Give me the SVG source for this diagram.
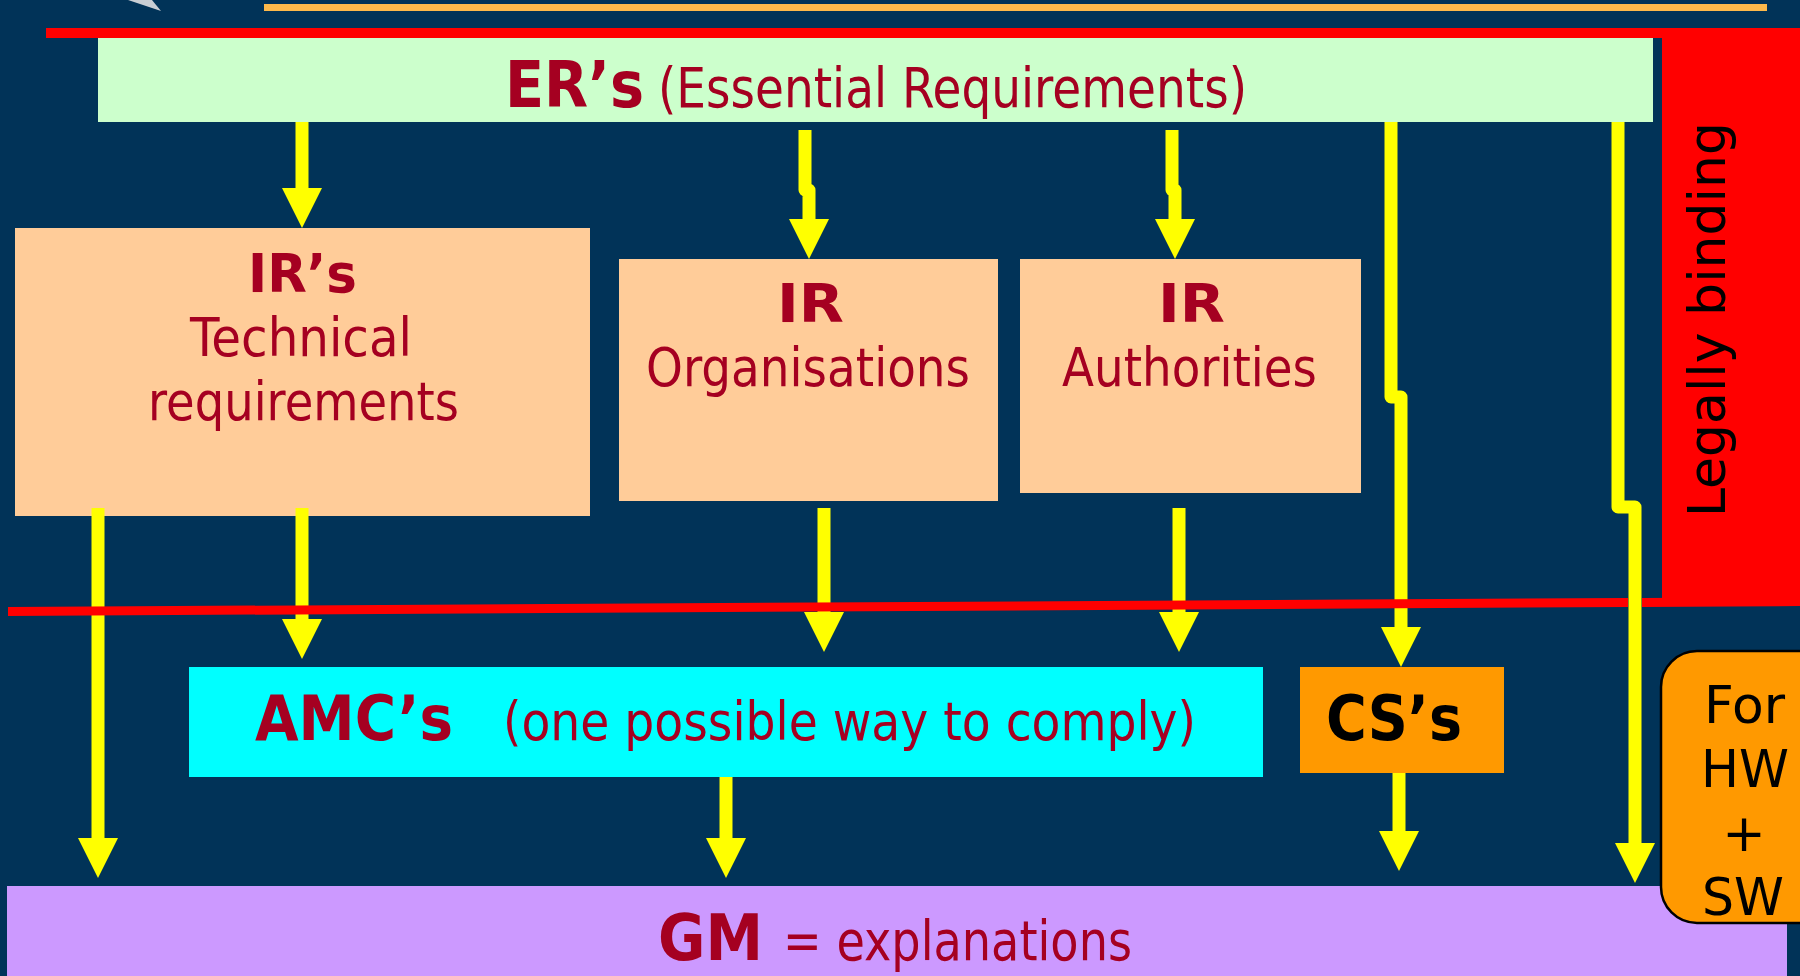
<svg xmlns="http://www.w3.org/2000/svg" width="1800" height="976" viewBox="0 0 1800 976">
  <style>
    .reg { font-family: "DejaVu Sans", "Liberation Sans", sans-serif; font-weight: normal; }
    .bold { font-family: "DejaVu Sans", "Liberation Sans", sans-serif; font-weight: bold; }
    .red { fill: #A50021; }
    .blk { fill: #000000; }
    .conn { fill: none; stroke: #FFFF00; stroke-width: 13; stroke-linejoin: round; marker-end: url(#arrow); }
  </style>
  <defs>
    <marker id="arrow" markerUnits="userSpaceOnUse" markerWidth="40" markerHeight="40" viewBox="0 0 40 40" refX="0" refY="20" orient="auto">
      <path d="M0,0 L40,20 L0,40 Z" fill="#FFFF00"/>
    </marker>
  </defs>

  <!-- background -->
  <rect x="0" y="0" width="1800" height="976" fill="#013358"/>

  <!-- header decorations -->
  <polygon points="128,0 152,0 161,11" fill="#C9CED4"/>
  <rect x="264" y="4" width="1503" height="7" fill="#FDB94B"/>
  <rect x="46" y="28" width="1754" height="10" fill="#FF0000"/>

  <!-- legally binding band -->
  <g id="legally-binding">
    <rect x="1662" y="28" width="138" height="575" fill="#FF0000"/>
    <text class="reg blk" font-size="52" transform="translate(1725,517) rotate(-90)">Legally binding</text>
  </g>

  <g id="er">
    <rect x="98" y="38" width="1555" height="84" fill="#CCFFCC"/>
    <text class="bold red" x="505" y="107" font-size="64" textLength="139" lengthAdjust="spacingAndGlyphs">ER’s</text>
    <text class="reg red" x="658" y="107" font-size="55" textLength="589" lengthAdjust="spacingAndGlyphs">(Essential Requirements)</text>
  </g>

  <g id="ir-technical">
    <rect x="15" y="228" width="575" height="288" fill="#FFCC99"/>
    <text class="bold red" x="248" y="292" font-size="54" textLength="109" lengthAdjust="spacingAndGlyphs">IR’s</text>
    <text class="reg red" x="190" y="356" font-size="54" textLength="222" lengthAdjust="spacingAndGlyphs">Technical</text>
    <text class="reg red" x="148" y="420" font-size="54" textLength="311" lengthAdjust="spacingAndGlyphs">requirements</text>
  </g>

  <g id="ir-organisations">
    <rect x="619" y="259" width="379" height="242" fill="#FFCC99"/>
    <text class="bold red" x="777" y="322" font-size="54" textLength="67" lengthAdjust="spacingAndGlyphs">IR</text>
    <text class="reg red" x="646" y="386" font-size="54" textLength="324" lengthAdjust="spacingAndGlyphs">Organisations</text>
  </g>

  <g id="ir-authorities">
    <rect x="1020" y="259" width="341" height="234" fill="#FFCC99"/>
    <text class="bold red" x="1158" y="322" font-size="54" textLength="67" lengthAdjust="spacingAndGlyphs">IR</text>
    <text class="reg red" x="1062" y="386" font-size="54" textLength="255" lengthAdjust="spacingAndGlyphs">Authorities</text>
  </g>

  <g id="amc">
    <rect x="189" y="667" width="1074" height="110" fill="#00FFFF"/>
    <text class="bold red" x="255" y="740" font-size="63" textLength="198" lengthAdjust="spacingAndGlyphs">AMC’s</text>
    <text class="reg red" x="503" y="740" font-size="54" textLength="693" lengthAdjust="spacingAndGlyphs">(one possible way to comply)</text>
  </g>

  <g id="cs">
    <rect x="1300" y="667" width="204" height="106" fill="#FF9900"/>
    <text class="bold blk" x="1326" y="740" font-size="62" textLength="136" lengthAdjust="spacingAndGlyphs">CS’s</text>
  </g>

  <g id="gm">
    <rect x="7" y="886" width="1780" height="100" fill="#CC99FF"/>
    <text class="bold red" x="658" y="960" font-size="64" textLength="105" lengthAdjust="spacingAndGlyphs">GM</text>
    <text class="reg red" x="783" y="960" font-size="55" textLength="349" lengthAdjust="spacingAndGlyphs">= explanations</text>
  </g>

  <g id="hw-sw">
    <rect x="1661" y="651" width="180" height="272" rx="36" ry="36" fill="#FF9900" stroke="#000000" stroke-width="2.5"/>
    <text class="reg blk" x="1704" y="723" font-size="52" textLength="81" lengthAdjust="spacingAndGlyphs">For</text>
    <text class="reg blk" x="1701" y="787" font-size="52" textLength="88" lengthAdjust="spacingAndGlyphs">HW</text>
    <text class="reg blk" x="1744" y="851" font-size="52" text-anchor="middle">+</text>
    <text class="reg blk" x="1702" y="915" font-size="52" textLength="82" lengthAdjust="spacingAndGlyphs">SW</text>
  </g>

  <g id="connectors">
    <path class="conn" d="M302,122 V188"/>
    <path class="conn" d="M805,130 V190 H809 V219"/>
    <path class="conn" d="M1172,130 V190 H1175 V219"/>
    <path class="conn" d="M1391,122 V397 H1401 V627"/>
    <path class="conn" d="M98,508 V838"/>
    <path class="conn" d="M302,508 V619"/>
    <path class="conn" d="M824,508 V612"/>
    <path class="conn" d="M1179,508 V612"/>
    <path class="conn" d="M726,777 V838"/>
    <path class="conn" d="M1399,773 V831"/>
  </g>

  <!-- divider between binding and non-binding material -->
  <g id="divider">
    <polygon points="8,607 1628,598 1628,607 8,616" fill="#FF0000"/>
    <polygon points="1642,598 1800,597 1800,606 1642,607" fill="#FF0000"/>
  </g>

  <g id="connectors-top">
    <path class="conn" d="M1618,122 V507 H1635 V843"/>
  </g>
</svg>
